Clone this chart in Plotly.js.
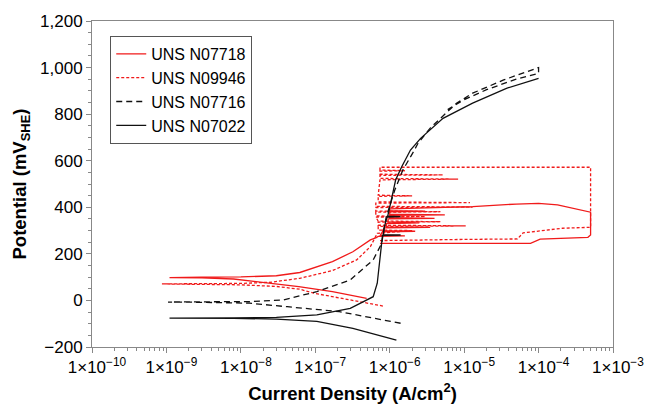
<!DOCTYPE html>
<html>
<head>
<meta charset="utf-8">
<script src="https://cdn.plot.ly/plotly-3.0.1.min.js"></script>
<style>html,body{margin:0;padding:0;background:#fff;}#chart{width:646px;height:408px;}</style>
</head>
<body>
<div id="chart"></div>
<script>
// UNS N07718 (red solid): current density (A/cm2), potential (mV SHE)
const n07718_i = [4.9e-7, 3e-7, 1.7e-7, 6e-8, 2.2e-8, 8e-9, 3e-9, 1.1e-9, 3e-9, 1e-8, 3e-8, 6.2e-8, 1.2e-7, 1.7e-7, 3.2e-7, 5.5e-7, 6.6e-7,
  7e-7, 1.6e-6, 7.5e-7, 8e-7, 2.2e-6, 8e-7, 8.5e-7, 3.5e-6, 9e-7, 9e-7, 2.5e-6, 9.5e-7, 9.5e-7, 4e-6, 1e-6, 1e-6, 5.5e-6, 1e-6, 1e-6, 3e-6, 1e-6, 1e-6,
  3e-6, 1.3e-5, 5e-5, 1e-4, 1.8e-4, 3.5e-4, 5e-4, 5e-4, 4.6e-4, 1.05e-4, 9e-5, 7.8e-5, 1e-5, 2e-6, 7.4e-7];
const n07718_e = [9, 22, 38, 59, 74, 92, 97, 98, 100, 101, 106, 120, 150, 167, 209, 260, 270,
  275, 277, 280, 295, 297, 300, 312, 314, 316, 330, 333, 336, 350, 352, 355, 365, 367, 370, 380, 383, 386, 393,
  396, 403, 414, 417, 410, 390, 379, 281, 271, 263, 252, 245, 245, 245, 245];

// UNS N09946 (red dashed)
const n09946_i = [8.1e-7, 4.5e-7, 2.3e-7, 1e-7, 6.2e-8, 3e-8, 1e-8, 3e-9, 8.7e-10, 3e-9, 1e-8, 2.5e-8, 6.2e-8, 1.7e-7, 3.6e-7, 5.5e-7, 6.8e-7,
  2e-6, 7e-7, 7e-7, 1.05e-5, 7e-7, 7e-7, 4.8e-6, 7e-7, 6.5e-7, 3e-6, 6.5e-7, 6.5e-7, 4.8e-6, 6.5e-7, 6.5e-7, 1.3e-5, 6.5e-7, 6.5e-7, 1.2e-5, 7e-7,
  7e-7, 2e-6, 7e-7, 7.4e-7, 8.3e-6, 7.4e-7, 7.4e-7, 5.2e-6, 7.4e-7, 7.4e-7, 1.6e-6, 7.4e-7, 7.4e-7,
  5e-4, 5e-4, 2.1e-4, 6.2e-5, 5.6e-5, 5.2e-5, 1e-5, 1e-6, 7.4e-7];
const n09946_e = [-24, -8, 9, 30, 48, 60, 67, 70, 71, 72, 73, 78, 95, 128, 174, 231, 288,
  300, 302, 318, 320, 323, 336, 338, 341, 358, 360, 363, 379, 381, 384, 399, 401, 404, 418, 420, 423,
  447, 449, 452, 518, 521, 524, 537, 539, 542, 555, 557, 560, 572,
  572, 314, 310, 290, 273, 264, 262, 258, 257];

// UNS N07716 (black dashed)
const n07716_i = [1.4e-6, 6e-7, 2.1e-7, 4.2e-8, 1.3e-8, 3e-9, 1.05e-9, 3e-9, 1.3e-8, 3.7e-8, 1.05e-7, 2.95e-7, 6e-7, 7.8e-7, 8.3e-7, 9e-7,
  1.17e-6, 1.5e-6, 2.1e-6, 2.4e-6, 3.5e-6, 5.9e-6, 7.9e-6, 1.3e-5, 3.4e-5, 1e-4, 1e-4, 5e-5, 2e-5, 1e-5, 6e-6];
const n07716_e = [-98, -75, -48, -27, -12, -8, -7, -6, -5, 2, 38, 88, 174, 245, 300, 360,
  474, 560, 640, 675, 740, 811, 847, 890, 947, 1000, 975, 950, 905, 862, 820];

// UNS N07022 (black solid)
const n07022_i = [1.23e-6, 6e-7, 3.2e-7, 1.05e-7, 3e-8, 8e-9, 1.1e-9, 8e-9, 3e-8, 1.05e-7, 2.95e-7, 6e-7, 6.8e-7, 7.4e-7, 8e-7,
  1.4e-6, 8.2e-7, 8.5e-7, 9.2e-7, 1.4e-6, 9.4e-7, 1.05e-6, 1.2e-6, 1.45e-6, 1.9e-6, 2.6e-6, 5.2e-6, 1.3e-5, 3.7e-5, 1e-4];
const n07022_e = [-170, -145, -120, -90, -80, -77, -76, -75, -73, -62, -34, 16, 74, 174, 279,
  281, 283, 317, 358, 360, 362, 431, 517, 574, 646, 696, 782, 847, 911, 954];

const series = ['UNS N07718', 'UNS N09946', 'UNS N07716', 'UNS N07022'];
const xTicks = [1e-10, 1e-9, 1e-8, 1e-7, 1e-6, 1e-5, 1e-4, 1e-3];
const xTickText = ['1×10<sup>−10</sup>', '1×10<sup>−9</sup>', '1×10<sup>−8</sup>', '1×10<sup>−7</sup>',
  '1×10<sup>−6</sup>', '1×10<sup>−5</sup>', '1×10<sup>−4</sup>', '1×10<sup>−3</sup>'];

const RED = '#f01a1a';
const traces = [
  {x: n07718_i, y: n07718_e, name: series[0], mode: 'lines', line: {color: RED, width: 1.3}},
  {x: n09946_i, y: n09946_e, name: series[1], mode: 'lines', line: {color: RED, width: 1.3, dash: '3px,2px'}},
  {x: n07716_i, y: n07716_e, name: series[2], mode: 'lines', line: {color: '#111', width: 1.3, dash: '6px,4px'}},
  {x: n07022_i, y: n07022_e, name: series[3], mode: 'lines', line: {color: '#111', width: 1.3}}
];

const FONT = 'Liberation Sans, Arial, Helvetica, sans-serif';
const layout = {
  width: 646, height: 408,
  margin: {l: 92, r: 33, t: 21, b: 61},
  paper_bgcolor: '#fff', plot_bgcolor: '#fff',
  font: {family: FONT, size: 16, color: '#000'},
  showlegend: true,
  legend: {x: 0.035, y: 0.954, xanchor: 'left', yanchor: 'top', bgcolor: '#fff',
    bordercolor: '#555', borderwidth: 1, font: {family: FONT, size: 16, color: '#000'}},
  xaxis: {
    type: 'log', range: [-10, -3], tickvals: xTicks, ticktext: xTickText,
    ticks: 'outside', ticklen: 5, tickcolor: '#888', showgrid: false, zeroline: false,
    showline: true, linecolor: '#888', linewidth: 1, mirror: true, ticklabelshift: 5,
    minor: {ticks: 'outside', ticklen: 3, tickcolor: '#888', dtick: 'D1', showgrid: false},
    tickfont: {family: FONT, size: 17, color: '#000'},
    title: {text: '<b>Current Density (A/cm<sup>2</sup>)</b>', font: {family: FONT, size: 18.5, color: '#000'}, standoff: 10}
  },
  yaxis: {
    range: [-200, 1200], dtick: 200, tick0: 0, separatethousands: true, tickformat: ',d',
    ticks: 'outside', ticklen: 5, tickcolor: '#888', showgrid: false, zeroline: false,
    showline: true, linecolor: '#888', linewidth: 1, mirror: true,
    minor: {ticks: 'outside', ticklen: 3, tickcolor: '#888', dtick: 50, showgrid: false},
    tickfont: {family: FONT, size: 17, color: '#000'},
    title: {text: '<b>Potential (mV<sub>SHE</sub>)</b>', font: {family: FONT, size: 18.5, color: '#000'}, standoff: 8}
  }
};

Plotly.newPlot('chart', traces, layout, {displayModeBar: false, staticPlot: true});
</script>
</body>
</html>
